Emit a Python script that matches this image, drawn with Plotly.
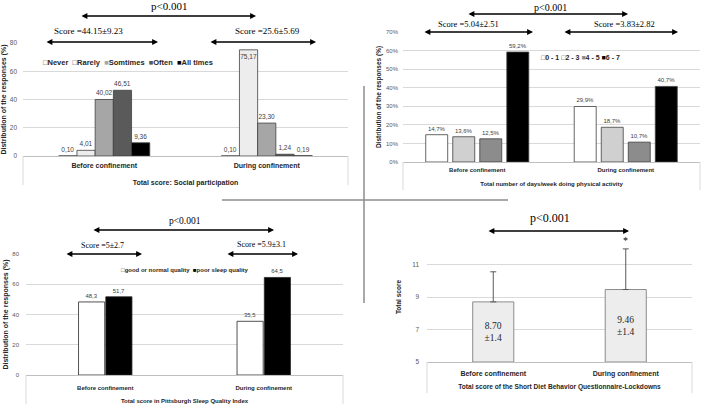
import plotly.graph_objects as go

W, H = 703, 404

# ---------------- data ----------------
categories = ["Before confinement", "During confinement"]

# Panel 1: social participation (%)
sp_series = ["Never", "Rarely", "Somtimes", "Often", "All times"]
sp_before = [0.10, 4.01, 40.02, 46.51, 9.36]
sp_during = [0.10, 75.17, 23.30, 1.24, 0.19]
sp_scores = ["Score =44.15±9.23", "Score =25.6±5.69"]
sp_ticks = [0, 20, 40, 60, 80]

# Panel 2: days/week of physical activity (%)
pa_series = ["0 - 1", "2 - 3", "4 - 5", "6 - 7"]
pa_before = [14.7, 13.6, 12.5, 59.2]
pa_during = [29.9, 18.7, 10.7, 40.7]
pa_scores = ["Score =5.04±2.51", "Score =3.83±2.82"]
pa_ticks = [0, 10, 20, 30, 40, 50, 60, 70]

# Panel 3: Pittsburgh sleep quality (%)
sl_series = ["good or normal quality", "poor sleep quality"]
sl_before = [48.3, 51.7]
sl_during = [35.5, 64.5]
sl_scores = ["Score =5±2.7", "Score =5.9±3.1"]
sl_ticks = [0, 20, 40, 60, 80]

# Panel 4: Short Diet Behavior Questionnaire total score
diet_mean = [8.70, 9.46]
diet_sd = [1.4, 1.4]
diet_err = [1.85, 2.5]      # drawn error-bar length
diet_ticks = [5, 7, 9, 11]
diet_min = 5

p_text = "p<0.001"

# ---------------- style ----------------
SERIF = "Liberation Serif, Times New Roman, serif"
SANS = "Liberation Sans, Arial, sans-serif"
GRID = "#d9d9d9"
TXT = "#262626"
TICK = "#595959"


def px(x):
    return x / W


def py(y):
    return 1 - y / H


def comma(v, nd, suffix=""):
    return f"{v:.{nd}f}".replace(".", ",") + suffix


fig = go.Figure()


def grouped(xa, ya, names, before, during, colors, line_color, bar_w, slot_w,
            fmt, inside_above=None, tsize=6.5):
    n = len(names)
    for i, (name, col) in enumerate(zip(names, colors)):
        vals = [before[i], during[i]]
        off = -n * slot_w / 2 + i * slot_w + (slot_w - bar_w) / 2
        pos = ["inside" if (inside_above is not None and v > inside_above) else "outside"
               for v in vals]
        fig.add_trace(go.Bar(
            x=categories, y=vals, name=name, xaxis=xa, yaxis=ya,
            width=bar_w, offset=off,
            marker=dict(color=col, line=dict(color=line_color, width=0.8)),
            text=[fmt(v) for v in vals], textposition=pos, insidetextanchor="end",
            textangle=0,
            textfont=dict(family=SANS, size=tsize, color="#404040"),
            insidetextfont=dict(family=SANS, size=tsize, color="#404040"),
            outsidetextfont=dict(family=SANS, size=tsize, color="#404040"),
            constraintext="none", cliponaxis=False, showlegend=False,
        ))


sp_colors = ["#ffffff", "#ededed", "#a6a6a6", "#5a5a5a", "#000000"]
pa_colors = ["#ffffff", "#d0d0d0", "#8c8c8c", "#000000"]
sl_colors = ["#ffffff", "#000000"]

grouped("x", "y", sp_series, sp_before, sp_during, sp_colors, "#404040",
        0.112, 0.112, lambda v: comma(v, 2), inside_above=70)
grouped("x2", "y2", pa_series, pa_before, pa_during, pa_colors, "#404040",
        0.148, 0.182, lambda v: comma(v, 1, "%"), tsize=6)
grouped("x3", "y3", sl_series, sl_before, sl_during, sl_colors, "#262626",
        0.165, 0.172, lambda v: comma(v, 1), tsize=6)

fig.add_trace(go.Bar(
    x=categories, y=[m - diet_min for m in diet_mean], base=diet_min,
    xaxis="x4", yaxis="y4", width=0.31,
    marker=dict(color="#ededed", line=dict(color="#8c8c8c", width=1)),
    error_y=dict(type="data", array=diet_err, arrayminus=[0, 0], symmetric=False,
                 color="#595959", thickness=1, width=3),
    text=[f"{m:.2f}<br>±{s}" for m, s in zip(diet_mean, diet_sd)],
    textposition="inside", insidetextanchor="middle", textangle=0,
    textfont=dict(family=SERIF, size=9.5, color=TXT),
    constraintext="none", showlegend=False,
))


def xax(d0, d1, anchor, title, tsize, ttsize, lstand, tstand):
    return dict(domain=[px(d0), px(d1)], anchor=anchor, type="category",
                range=[-0.5, 1.5], showline=True, linecolor="#bfbfbf", linewidth=1,
                showgrid=False, ticks="", automargin=False, fixedrange=True,
                ticklabelstandoff=lstand,
                tickfont=dict(family=SANS, size=tsize, color=TXT, weight="bold"),
                title=dict(text=title, standoff=tstand,
                           font=dict(family=SANS, size=ttsize, color=TXT, weight="bold")))


def yax(y0, y1, anchor, rng, ticks, title, tsize, ttsize, lstand, tstand, suffix=""):
    return dict(domain=[py(y0), py(y1)], anchor=anchor, range=rng, tickvals=ticks,
                ticktext=[f"{t}{suffix}" for t in ticks],
                showgrid=True, gridcolor=GRID, gridwidth=1,
                zeroline=False, showline=False, ticks="", automargin=False,
                fixedrange=True, ticklabelstandoff=lstand,
                tickfont=dict(family=SANS, size=tsize, color=TICK),
                title=dict(text=title, standoff=tstand,
                           font=dict(family=SANS, size=ttsize, color=TXT, weight="bold")))


fig.update_layout(
    width=W, height=H, margin=dict(l=0, r=0, t=0, b=0),
    paper_bgcolor="white", plot_bgcolor="white", barmode="overlay",
    showlegend=False, font=dict(family=SANS),
    xaxis=xax(23, 348, "y", "Total score: Social participation", 7, 7, 3, 10),
    yaxis=yax(156, 43, "x", [0, 80], sp_ticks, "Distribution of the responses (%)",
              6.5, 7, 5, 2),
    xaxis2=xax(403, 700, "y2", "Total number of days/week doing physical activity", 6, 6, 2, 9),
    yaxis2=yax(162, 32, "x2", [0, 70], pa_ticks, "Distribution of the responses (%)",
               6, 6.5, 4, 3, suffix="%"),
    xaxis3=xax(26, 343, "y3", "Total score in Pittsburgh Sleep Quality Index", 6, 6, 7, 8),
    yaxis3=yax(375, 254, "x3", [0, 80], sl_ticks, "Distribution of the responses (%)",
               6, 7, 6, 2),
    xaxis4=xax(427, 692, "y4", "Total score of the Short Diet Behavior Questionnaire-Lockdowns",
               7, 6.6, 5, 6),
    yaxis4=yax(362, 232, "x4", [diet_min, 13], diet_ticks, "Total score",
               6.5, 6.5, 7, 9),
)

ann = []
shapes = []


def text(x, y, s, size, family=SERIF, **kw):
    ann.append(dict(x=px(x), y=py(y), xref="paper", yref="paper", text=s, showarrow=False,
                    font=dict(family=family, size=size, color="#000000"),
                    xanchor=kw.get("xanchor", "center"), yanchor="middle"))


def arrow(x0, x1, y, width=1.3):
    ann.append(dict(x=px(x1), y=py(y), xref="paper", yref="paper", text="",
                    showarrow=True, ax=-(x1 - x0), ay=0, axref="pixel", ayref="pixel",
                    arrowhead=2, startarrowhead=2, arrowside="end+start",
                    arrowsize=0.9, startarrowsize=0.9, arrowwidth=width,
                    arrowcolor="#000000"))


def vline(x, y0, y1, color=GRID, width=1):
    shapes.append(dict(type="line", xref="paper", yref="paper", x0=px(x), x1=px(x),
                       y0=py(y0), y1=py(y1), line=dict(color=color, width=width)))


def hline(x0, x1, y, color=GRID, width=1):
    shapes.append(dict(type="line", xref="paper", yref="paper", x0=px(x0), x1=px(x1),
                       y0=py(y), y1=py(y), line=dict(color=color, width=width)))


def legend_text(names, colors, sep):
    parts = []
    for n, c in zip(names, colors):
        r, g, b = int(c[1:3], 16), int(c[3:5], 16), int(c[5:7], 16)
        light = (r + g + b) / 3 > 200
        glyph = "□" if light else "■"
        gcol = "#404040" if light else c
        parts.append(f"<span style='color:{gcol}'>{glyph}</span>{n}")
    return sep.join(parts)


# panel 1
text(169, 6, p_text, 11)
arrow(80, 256, 16)
text(88, 31, sp_scores[0], 9)
text(267, 31, sp_scores[1], 9)
arrow(45, 158, 42)
arrow(209, 316, 42)
ann.append(dict(x=px(41), y=py(62), xref="paper", yref="paper", showarrow=False,
                xanchor="left", yanchor="middle",
                text=legend_text(sp_series, sp_colors, "\u00a0\u00a0"),
                font=dict(family=SANS, size=7.5, color=TXT, weight="bold")))

# panel 2
text(550, 7, p_text, 10)
arrow(467, 628, 14)
text(469, 24, pa_scores[0], 8.5)
text(624, 24, pa_scores[1], 8.5)
arrow(423, 533, 32)
arrow(563, 678, 32)
ann.append(dict(x=px(539), y=py(57), xref="paper", yref="paper", showarrow=False,
                xanchor="left", yanchor="middle",
                text=legend_text(pa_series, pa_colors, "\u00a0"),
                font=dict(family=SANS, size=7, color=TXT, weight="bold")))

# panel 3
text(185, 221, p_text, 9.5)
arrow(92, 274, 230)
text(102, 245, sl_scores[0], 8)
text(261, 244, sl_scores[1], 8)
arrow(65, 142, 254)
arrow(226, 298, 254)
ann.append(dict(x=px(119), y=py(270), xref="paper", yref="paper", showarrow=False,
                xanchor="left", yanchor="middle",
                text=legend_text(sl_series, sl_colors, "\u00a0\u00a0"),
                font=dict(family=SANS, size=6, color=TXT, weight="bold")))

# panel 4
text(550, 218, p_text, 12)
arrow(487, 629, 231)
ann.append(dict(x=categories[1], y=diet_mean[1] + diet_err[1], xref="x4", yref="y4",
                text="*", showarrow=False, yanchor="bottom", yshift=1,
                font=dict(family=SERIF, size=10, color="#000000")))

# frames under the category axes
for (x0, x1, y0, y1) in [(23, 348, 156, 185), (403, 700, 162, 190),
                         (26, 343, 375, 404), (427, 692, 362, 393)]:
    vline(x0, y0, y1)
    vline(x1, y0, y1)

# central cross separating the four panels
vline(364, 86, 303, color="#8c8c8c", width=1.5)
hline(222, 508, 200, color="#8c8c8c", width=1.5)

fig.update_layout(annotations=ann, shapes=shapes)

fig.write_html("out.html", config={"displayModeBar": False},
               post_script="document.body.style.margin='0px';")
